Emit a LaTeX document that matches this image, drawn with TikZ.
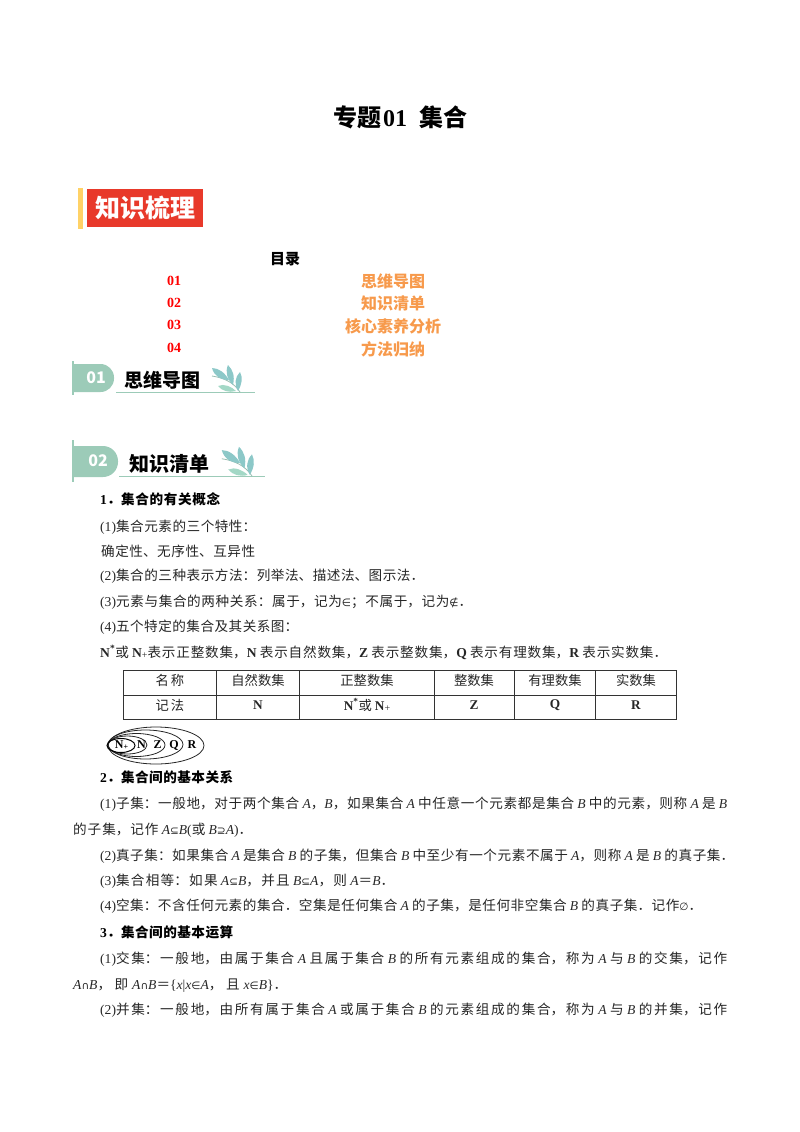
\documentclass[tikz,border=0pt]{standalone}
\usepackage{fontspec}
\setmainfont{Noto Sans CJK SC}
\newfontfamily\libfont{Liberation Serif}
\newfontfamily\symfont{DejaVu Sans}
\usetikzlibrary{positioning}
\XeTeXlinebreaklocale "zh"
\XeTeXlinebreakskip=0pt plus 6pt minus 0.6pt
\definecolor{tabgreen}{HTML}{9CCBB8}
\definecolor{leafblue}{HTML}{8CC8C8}
\definecolor{leafgreen}{HTML}{A3D8C6}
\definecolor{listorange}{HTML}{F79A4C}
\definecolor{bannerred}{HTML}{E8392A}
\definecolor{bannergold}{HTML}{FFD267}
\definecolor{bodygray}{HTML}{262626}
% latin and symbol pieces
\newcommand{\lt}[1]{{\libfont #1}}
\newcommand{\mi}[1]{{\libfont\itshape #1}}
\newcommand{\bl}[1]{{\libfont\bfseries #1}}
\newcommand{\ys}[1]{{\symfont\fontsize{10.5}{11}\selectfont #1}}
\newcommand{\nstar}{\bl{N}\textsuperscript{\bl{*}}}
\newcommand{\nplus}{\bl{N}\raisebox{-1pt}{\lt{\fontsize{10}{10}\selectfont +}}}
\newcommand{\fit}[2]{\parbox[b]{#1pt}{\tolerance=9999\hbadness=10000\hfuzz=4pt\parfillskip=0pt\relax\noindent #2}}
\newcommand{\sprig}[2]{%
  \begin{scope}[shift={(#1)}, scale=#2]
    \draw[leafgreen!70!gray, thick] (0,0) .. controls (-6,-9) and (-15,-14) .. (-28,-16);
    \fill[leafblue] (-28,-24) .. controls (-21,-24) and (-15,-19) .. (-11,-12) .. controls (-19,-12) and (-26,-16) .. (-28,-24) -- cycle;
    \fill[leafblue] (-12,-27) .. controls (-7,-22) and (-5,-16) .. (-7,-7) .. controls (-13,-13) and (-15,-20) .. (-12,-27) -- cycle;
    \fill[leafblue] (0,-20) .. controls (3,-14) and (2,-8) .. (-2,-1) .. controls (-6,-8) and (-5,-15) .. (0,-20) -- cycle;
    \fill[leafgreen] (-22,-6) .. controls (-16,-9) and (-8,-5) .. (-4,-1) .. controls (-11,1) and (-18,-1) .. (-22,-6) -- cycle;
  \end{scope}}
\tikzset{
  body/.style={anchor=base west, inner sep=0pt, font=\fontsize{13.6}{16}\selectfont, text=bodygray},
  head/.style={anchor=base west, inner sep=0pt, font=\fontsize{13.6}{16}\selectfont\bfseries},
  cell/.style={anchor=center, inner sep=0pt, font=\fontsize{13.3}{16}\selectfont, text=bodygray},
  num/.style={anchor=center, inner sep=0pt, text=red, font=\fontsize{14}{16}\libfont\bfseries},
  item/.style={anchor=center, inner sep=0pt, text=listorange, font=\fontsize{16}{18}\selectfont\bfseries},
  tabno/.style={anchor=center, inner sep=0pt, text=white, font=\fontsize{16}{18}\selectfont\bfseries},
  sethead/.style={anchor=center, inner sep=0pt, font=\fontsize{12}{12}\libfont\bfseries},
  setline/.style={line width=0.8pt, black!85},
}
\begin{document}
\begin{tikzpicture}[x=1pt,y=-1pt]
  \useasboundingbox (0,0) rectangle (800,1132);

  \node[inner sep=0pt, font=\fontsize{24}{28}\selectfont\bfseries] (title) at (400,117) {专题\hspace{2pt}\bl{01}\hspace{12pt}集合};

  % banner
  \fill[bannergold] (78,188) rectangle (82.5,229);
  \node[fill=bannerred, minimum width=116pt, minimum height=38pt, inner sep=0pt, text=white,
    font=\fontsize{25}{28}\selectfont\bfseries] (banner) at (145,208) {知识梳理};

  % contents
  \node[inner sep=0pt, font=\fontsize{15}{16}\selectfont\bfseries] (toc) at (285,259) {目录};
  \node[num] (n1) at (174,281) {01};
  \node[num] (n2) at (174,303) {02};
  \node[num] (n3) at (174,325) {03};
  \node[num] (n4) at (174,348) {04};
  \node[item] (i1) at (393,281) {思维导图};
  \node[item] (i2) at (393,303) {知识清单};
  \node[item] (i3) at (393,326) {核心素养分析};
  \node[item] (i4) at (393,349) {方法归纳};

  % section tabs
  \fill[tabgreen] (72,361) rectangle (74,395);
  \fill[tabgreen] (74,364) [rounded corners=13.5pt] -- (114,364) -- (114,392) [sharp corners] -- (74,392) -- cycle;
  \node[tabno] (s1) at (96,378) {01};
  \node[inner sep=0pt, font=\fontsize{19}{22}\selectfont\bfseries] (s1t) at (162,380) {思维导图};
  \draw[tabgreen, line width=0.7pt] (116,392.5) -- (255,392.5);
  \sprig{240,392}{1}

  \fill[tabgreen] (72,440) rectangle (74,482);
  \fill[tabgreen] (74,446) [rounded corners=15pt] -- (118,446) -- (118,477) [sharp corners] -- (74,477) -- cycle;
  \node[tabno] (s2) at (98,461) {02};
  \node[inner sep=0pt, font=\fontsize{20}{24}\selectfont\bfseries] (s2t) at (169,464) {知识清单};
  \draw[tabgreen, line width=0.9pt] (119,476.5) -- (265,476.5);
  \sprig{252,476}{1.08}

  % first block
  \node[head] (l1) at (100,504) {\fit{120}{\bl{1}．集合的有关概念}};
  \node[body] (l2) at (100,531) {\fit{156}{\lt{(1)}集合元素的三个特性：}};
  \node[body] (l3) at (101,556) {\fit{154}{确定性、无序性、互异性}};
  \node[body] (l4) at (100,580) {\fit{324}{\lt{(2)}集合的三种表示方法：列举法、描述法、图示法．}};
  \node[body] (l5) at (100,606) {\fit{372}{\lt{(3)}元素与集合的两种关系：属于，记为\ys{∈}；不属于，记为\ys{∉}．}};
  \node[body] (l6) at (100,631) {\fit{198}{\lt{(4)}五个特定的集合及其关系图：}};
  \node[body] (l7) at (100,657) {\fit{567}{\nstar 或 \nplus 表示正整数集，\bl{N} 表示自然数集，\bl{Z} 表示整数集，\bl{Q} 表示有理数集，\bl{R} 表示实数集．}};

  % table
  \draw[line width=0.8pt, black!80] (123.5,670) rectangle (676.7,719.5);
  \draw[line width=0.8pt, black!80] (123.5,695) -- (676.7,695);
  \foreach \cx in {216,299.5,434,514,595.7}
    \draw[line width=0.8pt, black!80] (\cx,670) -- (\cx,719.5);
  \node[cell] (h1) at (170,680) {名\hspace{2pt}称};
  \node[cell] (h2) at (258,680) {自然数集};
  \node[cell] (h3) at (367,680) {正整数集};
  \node[cell] (h4) at (474,680) {整数集};
  \node[cell] (h5) at (555,680) {有理数集};
  \node[cell] (h6) at (636,680) {实数集};
  \node[cell] (r1) at (170,705) {记\hspace{2pt}法};
  \node[cell] (r2) at (258,705) {\bl{N}};
  \node[cell] (r3) at (367,705) {\nstar 或 \nplus};
  \node[cell] (r4) at (474,705) {\bl{Z}};
  \node[cell] (r5) at (555,705) {\bl{Q}};
  \node[cell] (r6) at (636,705) {\bl{R}};

  % nested sets
  \draw[setline] (156,745.5) ellipse[x radius=48, y radius=18.5];
  \draw[setline] (145.5,744.5) ellipse[x radius=37.5, y radius=14.5];
  \draw[setline] (136.5,745) ellipse[x radius=28.5, y radius=11.5];
  \draw[setline] (127.5,745) ellipse[x radius=19.5, y radius=9];
  \draw[line width=1pt] (121,745.5) ellipse[x radius=14, y radius=7];
  \node[sethead] (e1) at (121.5,745.5) {N\raisebox{-1pt}{\fontsize{8}{8}\selectfont +}};
  \node[sethead] (e2) at (141.5,745) {N};
  \node[sethead] (e3) at (157.5,745) {Z};
  \node[sethead] (e4) at (174,745) {Q};
  \node[sethead] (e5) at (192,745) {R};

  % second block
  \node[head] (l8) at (100,782) {\fit{133}{\bl{2}．集合间的基本关系}};
  \node[body] (l9) at (100,808) {\fit{627}{\lt{(1)}子集：一般地，对于两个集合 \mi{A}，\mi{B}，如果集合 \mi{A} 中任意一个元素都是集合 \mi{B} 中的元素，则称 \mi{A} 是 \mi{B}}};
  \node[body] (l10) at (73,834) {\fit{179}{的子集，记作 \mi{A}\ys{⊆}\mi{B}\lt{(}或 \mi{B}\ys{⊇}\mi{A}\lt{)}．}};
  \node[body] (l11) at (100,860) {\fit{634}{\lt{(2)}真子集：如果集合 \mi{A} 是集合 \mi{B} 的子集，但集合 \mi{B} 中至少有一个元素不属于 \mi{A}，则称 \mi{A} 是 \mi{B} 的真子集．}};
  \node[body] (l12) at (100,885) {\fit{294}{\lt{(3)}集合相等：如果 \mi{A}\ys{⊆}\mi{B}，并且 \mi{B}\ys{⊆}\mi{A}，则 \mi{A}＝\mi{B}．}};
  \node[body] (l13) at (100,910) {\fit{602}{\lt{(4)}空集：不含任何元素的集合．空集是任何集合 \mi{A} 的子集，是任何非空集合 \mi{B} 的真子集．记作\ys{∅}．}};

  % third block
  \node[head] (l14) at (100,937) {\fit{133}{\bl{3}．集合间的基本运算}};
  \node[body] (l15) at (100,963) {\fit{627}{\lt{(1)}交集：一般地，由属于集合 \mi{A} 且属于集合 \mi{B} 的所有元素组成的集合，称为 \mi{A} 与 \mi{B} 的交集，记作}};
  \node[body] (l16) at (73,989) {\fit{214}{\mi{A}\ys{∩}\mi{B}，即 \mi{A}\ys{∩}\mi{B}＝\lt{\{}\mi{x}\lt{|}\mi{x}\ys{∈}\mi{A}，且 \mi{x}\ys{∈}\mi{B}\lt{\}}．}};
  \node[body] (l17) at (100,1014) {\fit{627}{\lt{(2)}并集：一般地，由所有属于集合 \mi{A} 或属于集合 \mi{B} 的元素组成的集合，称为 \mi{A} 与 \mi{B} 的并集，记作}};
\end{tikzpicture}
\end{document}
